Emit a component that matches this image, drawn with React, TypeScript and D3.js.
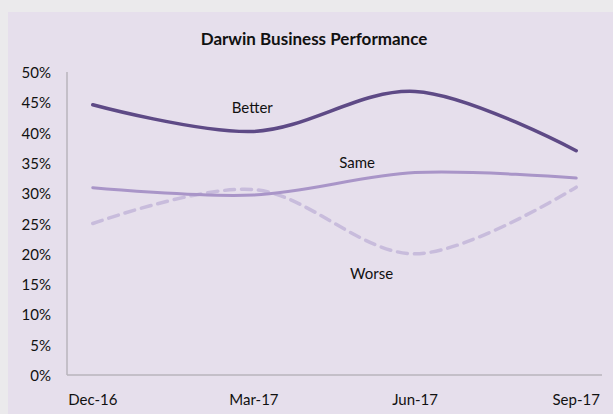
import React from "react";
import * as d3 from "d3";

const categories = ["Dec-16", "Mar-17", "Jun-17", "Sep-17"];
const better = [0.446, 0.402, 0.468, 0.37];
const same = [0.309, 0.297, 0.334, 0.325];
const worse = [0.25, 0.306, 0.2, 0.31];
const yTicks = [0, 0.05, 0.1, 0.15, 0.2, 0.25, 0.3, 0.35, 0.4, 0.45, 0.5];
const seriesNames = ["Better", "Same", "Worse"];
const labelAnchors = [
  { cat: 0.99, val: 0.442 },
  { cat: 1.64, val: 0.351 },
  { cat: 1.73, val: 0.168 },
];

const W = 613;
const H = 414;
const FONT = "Lato, 'Open Sans', sans-serif";

export default function App() {
  const left = 67;
  const right = 602;
  const top = 72;
  const bottom = 375;

  const x = d3.scalePoint<string>().domain(categories).range([left, right]).padding(0.16);
  const y = d3.scaleLinear().domain([0, 0.5]).range([bottom, top]);
  const xi = d3.scaleLinear().domain([0, categories.length - 1]).range([x(categories[0])!, x(categories[categories.length - 1])!]);

  const line = d3
    .line<number>()
    .x((_, i) => x(categories[i])!)
    .y((d) => y(d))
    .curve(d3.curveCatmullRom.alpha(0.5));

  const series = [
    { name: seriesNames[0], data: better, color: "#5e4a86", width: 3.5, dash: undefined },
    { name: seriesNames[1], data: same, color: "#a995c8", width: 3, dash: undefined },
    { name: seriesNames[2], data: worse, color: "#c8bcdc", width: 3.5, dash: "10 7" },
  ];

  return (
    <svg
      width={W}
      height={H}
      style={{ position: "absolute", left: 0, top: 0, display: "block" }}
      fontFamily={FONT}
    >
      <rect x={0} y={0} width={W} height={H} fill="#ebeaec" />
      <rect x={8} y={12} width={W - 8} height={H - 12} fill="#e6dfec" />
      <text x={314} y={38} textAnchor="middle" dominantBaseline="central" fontWeight="bold" fontSize={17} fill="#111">
        Darwin Business Performance
      </text>
      {yTicks.map((t) => (
        <text key={t} x={51} y={y(t)} textAnchor="end" dominantBaseline="central" fontSize={15} fill="#111">
          {d3.format(".0%")(t)}
        </text>
      ))}
      {categories.map((c) => (
        <text key={c} x={x(c)!} y={399} textAnchor="middle" dominantBaseline="central" fontSize={15} fill="#111">
          {c}
        </text>
      ))}
      <line x1={left} x2={left} y1={y(0.5)} y2={y(0)} stroke="#b9b5bd" strokeWidth={1.5} />
      <line x1={left} x2={right} y1={y(0)} y2={y(0)} stroke="#b9b5bd" strokeWidth={1.5} />
      {series
        .slice()
        .reverse()
        .map((s) => (
          <path
            key={s.name}
            d={line(s.data)!}
            fill="none"
            stroke={s.color}
            strokeWidth={s.width}
            strokeDasharray={s.dash}
            strokeLinecap="round"
          />
        ))}
      {series.map((s, i) => (
        <text
          key={s.name}
          x={xi(labelAnchors[i].cat)}
          y={y(labelAnchors[i].val)}
          textAnchor="middle"
          dominantBaseline="central"
          fontSize={15}
          fill="#111"
        >
          {s.name}
        </text>
      ))}
    </svg>
  );
}
